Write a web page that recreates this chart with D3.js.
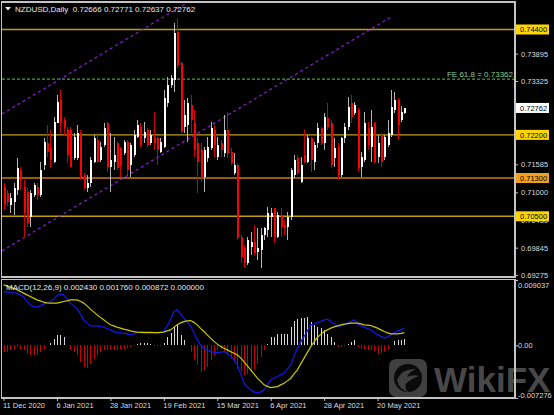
<!DOCTYPE html>
<html><head><meta charset="utf-8">
<script src="https://cdn.jsdelivr.net/npm/d3@7"></script>
<style>
html,body{margin:0;padding:0;background:#000;}
svg{display:block;}
text{font-family:"Liberation Sans",Arial,sans-serif;}
</style></head><body>
<svg id="c" width="554" height="415"></svg>
<script>
// ---------- DATA ----------
const opens = [
0.71109,0.70984,0.70733,0.70796,0.71047,0.71465,0.71109,0.71005,0.70482,0.70942,
0.71109,0.70942,0.71569,0.72029,0.71924,0.71632,0.72447,0.72928,0.72510,0.72301,
0.72301,0.71715,0.71715,0.72238,0.71360,0.71088,0.71193,0.71632,0.72092,0.71674,
0.71987,0.72447,0.71527,0.71632,0.72029,0.71924,0.71820,0.72050,0.71569,0.71778,
0.72154,0.72363,0.72133,0.72301,0.72029,0.72133,0.72133,0.71841,0.71945,0.72865,
0.73242,0.73346,0.74349,0.73701,0.72363,0.72405,0.72823,0.72447,0.72029,0.71883,
0.71318,0.71715,0.71924,0.72301,0.71736,0.72029,0.71820,0.72301,0.71841,0.71402,
0.71569,0.70064,0.69834,0.69521,0.69855,0.69960,0.69751,0.69793,0.70106,0.70211,
0.70482,0.70670,0.70064,0.70524,0.70315,0.70273,0.70482,0.71360,0.71715,0.71214,
0.71778,0.71632,0.72133,0.71632,0.72029,0.72342,0.72029,0.72551,0.72447,0.71715,
0.71945,0.71360,0.72133,0.72363,0.72865,0.72656,0.72718,0.71527,0.71674,0.72342,
0.71945,0.72447,0.71736,0.72196,0.71736,0.71987,0.72196,0.72718,0.72928,0.72510,
0.72666];
const highs = [
0.71193,0.71047,0.70984,0.71193,0.71715,0.71527,0.71256,0.71088,0.71047,0.71193,
0.71193,0.71632,0.72133,0.72405,0.72301,0.72572,0.73033,0.73137,0.72572,0.72363,
0.72363,0.72238,0.72405,0.72301,0.71402,0.71360,0.71736,0.72196,0.72238,0.72050,
0.72447,0.72468,0.72238,0.72154,0.72050,0.71945,0.72092,0.72092,0.72029,0.72301,
0.72510,0.72447,0.72468,0.72342,0.72301,0.72676,0.72154,0.72133,0.73137,0.73409,
0.73451,0.74537,0.74642,0.73722,0.72928,0.72970,0.73033,0.72718,0.72133,0.72029,
0.71945,0.72154,0.72468,0.72405,0.72154,0.72092,0.72614,0.72676,0.71924,0.71820,
0.71611,0.70106,0.69897,0.70064,0.70169,0.70315,0.70252,0.70252,0.70273,0.70691,
0.70670,0.70670,0.70587,0.70670,0.70419,0.70587,0.71506,0.71778,0.71778,0.71736,
0.72301,0.72196,0.72154,0.72050,0.72447,0.72363,0.72656,0.72865,0.72510,0.72133,
0.72029,0.72154,0.72447,0.72991,0.73033,0.72886,0.72760,0.71841,0.72676,0.72468,
0.72718,0.72468,0.72196,0.72238,0.72196,0.72510,0.73137,0.73095,0.72970,0.72802,
0.72771];
const lows = [
0.70629,0.70712,0.70566,0.70524,0.70942,0.71047,0.70043,0.70273,0.70273,0.70900,
0.70838,0.70900,0.71465,0.71736,0.71506,0.71611,0.72447,0.72238,0.72196,0.71611,
0.71527,0.71674,0.71674,0.71256,0.71047,0.71005,0.71109,0.71611,0.71611,0.71632,
0.71945,0.71423,0.71005,0.71465,0.71465,0.71318,0.71778,0.71360,0.71318,0.71736,
0.72133,0.71945,0.72029,0.71945,0.71987,0.71883,0.71569,0.71820,0.71924,0.72781,
0.73179,0.73095,0.73597,0.72238,0.72238,0.72050,0.72238,0.71736,0.70984,0.71214,
0.71005,0.71632,0.71883,0.71736,0.71674,0.71736,0.71736,0.71715,0.71569,0.71360,
0.70002,0.69521,0.69416,0.69479,0.69688,0.69688,0.69584,0.69416,0.70002,0.70064,
0.70064,0.69939,0.70043,0.70064,0.70106,0.70002,0.70419,0.71297,0.71360,0.71193,
0.71611,0.71611,0.71423,0.71465,0.71924,0.71987,0.71883,0.72301,0.71506,0.71527,
0.71256,0.71318,0.72029,0.72301,0.72447,0.72614,0.71423,0.71318,0.71632,0.71883,
0.71632,0.71611,0.71611,0.71527,0.71674,0.71945,0.72154,0.72656,0.72092,0.72468,
0.72637];
const closes = [
0.70733,0.70796,0.70879,0.71088,0.71506,0.71256,0.70566,0.70357,0.70984,0.71151,
0.70942,0.71465,0.72050,0.71841,0.71674,0.72468,0.72886,0.72447,0.72342,0.71778,
0.71527,0.72154,0.72238,0.71318,0.71088,0.71193,0.71674,0.72133,0.71632,0.71945,
0.72342,0.71527,0.71674,0.71778,0.71506,0.71569,0.72050,0.71465,0.71987,0.72196,
0.72405,0.71987,0.72259,0.71987,0.72196,0.72029,0.71883,0.72050,0.72970,0.73242,
0.73388,0.74328,0.73660,0.72259,0.72614,0.72865,0.72510,0.71883,0.71632,0.71297,
0.71883,0.71945,0.72342,0.71987,0.71987,0.71883,0.72301,0.71820,0.71611,0.71569,
0.70043,0.69646,0.69521,0.70002,0.69960,0.69730,0.69834,0.70106,0.70252,0.70566,
0.70566,0.70064,0.70524,0.70273,0.70252,0.70482,0.71465,0.71674,0.71402,0.71569,
0.71632,0.72133,0.71674,0.71987,0.72342,0.72029,0.72572,0.72363,0.71569,0.71924,
0.71360,0.72133,0.72363,0.72781,0.72572,0.72823,0.71506,0.71736,0.72447,0.71987,
0.72363,0.71632,0.72029,0.71632,0.72154,0.72238,0.72781,0.72928,0.72405,0.72676,
0.72762];
const macdMain = [
0.00744,0.00740,0.00730,0.00726,0.00722,0.00698,0.00675,0.00615,0.00560,0.00539,
0.00528,0.00546,0.00570,0.00588,0.00606,0.00643,0.00685,0.00712,0.00698,0.00643,
0.00584,0.00546,0.00514,0.00436,0.00353,0.00311,0.00270,0.00270,0.00270,0.00260,
0.00252,0.00232,0.00214,0.00194,0.00177,0.00173,0.00169,0.00159,0.00145,0.00159,
0.00177,0.00187,0.00191,0.00191,0.00191,0.00180,0.00169,0.00180,0.00191,0.00270,
0.00353,0.00467,0.00491,0.00436,0.00376,0.00325,0.00270,0.00173,0.00076,0.00007,
-0.00039,-0.00062,-0.00086,-0.00093,-0.00100,-0.00093,-0.00086,-0.00111,-0.00145,-0.00201,
-0.00270,-0.00394,-0.00523,-0.00574,-0.00615,-0.00643,-0.00661,-0.00643,-0.00615,-0.00546,
-0.00477,-0.00454,-0.00431,-0.00408,-0.00384,-0.00325,-0.00270,-0.00145,-0.00039,0.00048,
0.00122,0.00201,0.00284,0.00297,0.00315,0.00332,0.00353,0.00362,0.00329,0.00297,
0.00260,0.00270,0.00284,0.00304,0.00329,0.00353,0.00297,0.00270,0.00252,0.00232,
0.00214,0.00180,0.00145,0.00124,0.00100,0.00118,0.00145,0.00173,0.00201,0.00214,
0.00243];
const macdSignal = [
0.00837,0.00823,0.00805,0.00788,0.00768,0.00747,0.00722,0.00698,0.00675,0.00653,
0.00629,0.00615,0.00597,0.00588,0.00584,0.00584,0.00584,0.00595,0.00606,0.00615,
0.00629,0.00629,0.00629,0.00609,0.00584,0.00546,0.00501,0.00463,0.00422,0.00387,
0.00353,0.00318,0.00284,0.00270,0.00252,0.00238,0.00224,0.00214,0.00201,0.00191,
0.00183,0.00180,0.00177,0.00177,0.00177,0.00177,0.00177,0.00180,0.00183,0.00201,
0.00214,0.00249,0.00284,0.00311,0.00329,0.00339,0.00343,0.00318,0.00284,0.00235,
0.00191,0.00145,0.00100,0.00055,0.00017,-0.00014,-0.00039,-0.00062,-0.00086,-0.00108,
-0.00131,-0.00173,-0.00224,-0.00284,-0.00339,-0.00394,-0.00454,-0.00498,-0.00546,-0.00567,
-0.00584,-0.00577,-0.00570,-0.00546,-0.00523,-0.00491,-0.00454,-0.00394,-0.00339,-0.00256,
-0.00177,-0.00097,-0.00017,0.00048,0.00113,0.00152,0.00191,0.00214,0.00238,0.00256,
0.00270,0.00284,0.00293,0.00300,0.00307,0.00307,0.00307,0.00297,0.00284,0.00279,
0.00274,0.00256,0.00238,0.00214,0.00191,0.00173,0.00159,0.00159,0.00159,0.00166,
0.00176];
const macdHist = [
-0.00093,-0.00093,-0.00069,-0.00046,-0.00024,-0.00046,-0.00069,-0.00115,-0.00138,-0.00138,
-0.00138,-0.00093,-0.00046,0.00010,0.00032,0.00093,0.00148,0.00148,0.00115,0.00004,
-0.00046,-0.00093,-0.00138,-0.00231,-0.00300,-0.00314,-0.00253,-0.00184,-0.00138,-0.00093,
-0.00069,-0.00059,-0.00059,-0.00059,-0.00069,-0.00055,-0.00046,-0.00037,-0.00028,-0.00004,
0.00024,0.00032,0.00032,0.00032,0.00024,-0.00014,-0.00014,-0.00014,0.00032,0.00115,
0.00170,0.00253,0.00286,0.00148,0.00069,0.00004,-0.00093,-0.00207,-0.00277,-0.00369,
-0.00346,-0.00300,-0.00207,-0.00138,-0.00069,-0.00046,-0.00093,-0.00138,-0.00184,-0.00231,
-0.00322,-0.00369,-0.00405,-0.00391,-0.00369,-0.00322,-0.00253,-0.00162,-0.00069,0.00024,
0.00115,0.00115,0.00162,0.00162,0.00162,0.00162,0.00253,0.00332,0.00369,0.00383,
0.00383,0.00391,0.00322,0.00277,0.00253,0.00239,0.00207,0.00162,0.00115,0.00046,
-0.00028,-0.00028,-0.00014,0.00024,0.00046,0.00079,-0.00024,-0.00046,-0.00046,-0.00059,
-0.00069,-0.00083,-0.00115,-0.00101,-0.00093,-0.00069,0.00004,0.00055,0.00069,0.00069,
0.000872];
const xLabelIndex = [0,16,32,48,64,80,96,112];
const xLabels = ["11 Dec 2020","6 Jan 2021","28 Jan 2021","19 Feb 2021","15 Mar 2021","6 Apr 2021","28 Apr 2021","20 May 2021"];
const priceTicks = [0.73895,0.73325,0.71585,0.71000,0.70430,0.69845,0.69275];
const levelPrices = [0.74400,0.72200,0.71300,0.70500];
const levelKinds = ["yellow","yellow","orange","yellow"];
const fePrice = 0.73362;
const feLabel = "FE 61.8 = 0.73362";
const lastPrice = 0.72762;
const macdTicks = [0.009037,0,-0.007276];
const macdTickLabels = ["0.009037","0.00","-0.007276"];
const channelLower = [[-0.45,0.69778],[115.9,0.74656]];
const channelUpper = [[-0.45,0.72635],[115.9,0.77513]];
const headerText = "NZDUSD,Daily  0.72666 0.72771 0.72637 0.72762";
const macdHeader = "MACD(12,26,9) 0.002430 0.001760 0.000872 0.000000";

// ---------- LAYOUT ----------
const W=554,H=415;
const M={l:2,r:515,t:2,b:277};
const P={t:279.5,b:398};
const svg=d3.select("#c");
svg.append("rect").attr("width",W).attr("height",H).attr("fill","#000");
const defs=svg.append("defs");
defs.append("clipPath").attr("id","cm").append("rect").attr("x",M.l).attr("y",M.t).attr("width",M.r-M.l).attr("height",M.b-M.t);
defs.append("clipPath").attr("id","cp").append("rect").attr("x",M.l).attr("y",P.t).attr("width",M.r-M.l).attr("height",P.b-P.t);

const x=d3.scaleLinear().domain([0,120]).range([3.5,404.3]);
const y=d3.scaleLinear().domain([0.69233,0.74974]).range([277,2]);
const ym=d3.scaleLinear().domain([-0.007276,0.009037]).range([398,280]);

const levelFill={yellow:"#ffd700",orange:"#f3a01e"};
const levelLine={yellow:"#bf9e10",orange:"#c87a12"};

// ---------- MAIN PANEL ----------
const gm=svg.append("g").attr("clip-path","url(#cm)");
gm.selectAll("line.lvl").data(levelPrices).enter().append("line")
  .attr("x1",M.l).attr("x2",M.r).attr("y1",d=>y(d)).attr("y2",d=>y(d))
  .attr("stroke",(d,i)=>levelLine[levelKinds[i]]).attr("stroke-width",1.4);
gm.append("line").attr("x1",M.l).attr("x2",M.r).attr("y1",y(fePrice)).attr("y2",y(fePrice))
  .attr("stroke","#4f9a4f").attr("stroke-width",1.2).attr("stroke-dasharray","3,2");
const cl=d3.line().x(d=>x(d[0])).y(d=>y(d[1]));
[channelLower,channelUpper].forEach(c=>{
  gm.append("path").attr("d",cl(c)).attr("fill","none").attr("stroke","#8a1fd0")
    .attr("stroke-width",1.2).attr("stroke-dasharray","3,3");
});
const idx=d3.range(closes.length);
const gc=gm.append("g").attr("shape-rendering","crispEdges");
gc.selectAll("line.w").data(idx).enter().append("line")
  .attr("x1",i=>Math.round(x(i))+0.5).attr("x2",i=>Math.round(x(i))+0.5)
  .attr("y1",i=>y(highs[i])).attr("y2",i=>y(lows[i]))
  .attr("stroke",i=>closes[i]>=opens[i]?"#b4b4b4":"#d00000").attr("stroke-width",1);
gc.selectAll("rect.b").data(idx).enter().append("rect")
  .attr("x",i=>Math.round(x(i))-0.5).attr("width",2)
  .attr("y",i=>y(Math.max(opens[i],closes[i])))
  .attr("height",i=>Math.max(1,Math.abs(y(opens[i])-y(closes[i]))))
  .attr("fill",i=>closes[i]>=opens[i]?"#ffffff":"#ff0000");

svg.append("text").attr("x",513).attr("y",77).attr("text-anchor","end")
  .attr("font-size","8px").attr("fill","#8ccc8c").text(feLabel);
svg.append("path").attr("d","M5,7 L11,7 L8,10.5 Z").attr("fill","#e8e8e8");
svg.append("text").attr("x",15).attr("y",12).attr("font-size","8px").attr("fill","#e8e8e8")
  .style("white-space","pre").text(headerText);

// ---------- MACD PANEL ----------
const gp=svg.append("g").attr("clip-path","url(#cp)");
gp.append("g").attr("shape-rendering","crispEdges").selectAll("rect").data(idx).enter().append("rect")
  .attr("x",i=>Math.round(x(i))).attr("width",1)
  .attr("y",i=>Math.min(ym(0),ym(macdHist[i])))
  .attr("height",i=>Math.abs(ym(macdHist[i])-ym(0)))
  .attr("fill",i=>macdHist[i]>=0?"#d8d8d8":"#c80000");
const ml=d3.line().x(i=>x(i));
gp.append("path").attr("d",ml.y(i=>ym(macdMain[i]))(idx)).attr("fill","none").attr("stroke","#1515f0").attr("stroke-width",1.2);
gp.append("path").attr("d",ml.y(i=>ym(macdSignal[i]))(idx)).attr("fill","none").attr("stroke","#c8c800").attr("stroke-width",1.2);
svg.append("text").attr("x",6).attr("y",289.5).attr("font-size","8px").attr("fill","#e8e8e8").text(macdHeader);

// ---------- WATERMARK ----------
const wm=svg.append("g").attr("opacity",0.85);
wm.append("rect").attr("x",389).attr("y",359).attr("width",38).attr("height",38).attr("rx",7).attr("fill","#4a4a4a");
wm.append("circle").attr("cx",408).attr("cy",378).attr("r",14).attr("fill","#0c0c0c");
wm.append("path").attr("d","M397,380 Q402,368 416,369 Q409,372 407,377 Q413,374 419,376 Q410,379 406,384 Q404,389 409,392 Q399,390 397,380 Z").attr("fill","#4a4a4a");
wm.append("text").attr("x",434).attr("y",392).attr("font-size","35px").attr("font-weight","bold")
  .attr("fill","#555555").text("WikiFX");

// ---------- FRAMES ----------
const fr=svg.append("g").attr("stroke","#c4c4c4").attr("stroke-width",1.3).attr("fill","none").attr("shape-rendering","crispEdges");
fr.append("rect").attr("x",1.5).attr("y",2).attr("width",M.r-1.5).attr("height",M.b-2);
fr.append("rect").attr("x",1.5).attr("y",P.t).attr("width",M.r-1.5).attr("height",P.b-P.t);

// ---------- AXES ----------
const ay=svg.append("g").attr("transform",`translate(${M.r},0)`)
  .call(d3.axisRight(y).tickValues(priceTicks).tickSize(3).tickFormat(d3.format(".5f")));
ay.select(".domain").remove();
ay.selectAll("line").attr("stroke","#c4c4c4");
ay.selectAll("text").attr("fill","#dcdcdc").attr("font-size","7.5px").attr("font-family","Liberation Sans, Arial, sans-serif");

levelPrices.forEach((p,i)=>{
  svg.append("rect").attr("x",516).attr("y",y(p)-5).attr("width",33).attr("height",10).attr("fill",levelFill[levelKinds[i]]);
  svg.append("text").attr("x",520).attr("y",y(p)).attr("dy","0.35em").attr("font-size","7.5px").attr("fill","#000").text(d3.format(".5f")(p));
});
svg.append("rect").attr("x",516).attr("y",y(lastPrice)-5).attr("width",33).attr("height",10).attr("fill","#ffffff");
svg.append("text").attr("x",520).attr("y",y(lastPrice)).attr("dy","0.35em").attr("font-size","7.5px").attr("fill","#000").text(d3.format(".5f")(lastPrice));

const am=svg.append("g").attr("transform",`translate(${M.r},0)`)
  .call(d3.axisRight(ym).tickValues(macdTicks).tickSize(3).tickFormat((d,i)=>macdTickLabels[i]));
am.select(".domain").remove();
am.selectAll("line").attr("stroke","#c4c4c4");
am.selectAll("text").attr("fill","#dcdcdc").attr("font-size","7.5px").attr("font-family","Liberation Sans, Arial, sans-serif")
  .attr("x",3).attr("dy",d=>d>0.005?"1.0em":(d<-0.005?"-0.1em":"0.32em"));

const ax=svg.append("g").attr("transform",`translate(0,${P.b})`)
  .call(d3.axisBottom(x).tickValues(xLabelIndex).tickSize(3).tickFormat((d,i)=>xLabels[i]));
ax.select(".domain").remove();
ax.selectAll("line").attr("stroke","#c4c4c4");
ax.selectAll("text").attr("fill","#dcdcdc").attr("font-size","7.5px").attr("font-family","Liberation Sans, Arial, sans-serif")
  .attr("text-anchor","start").attr("x",-1).attr("y",5);
</script>
</body></html>
